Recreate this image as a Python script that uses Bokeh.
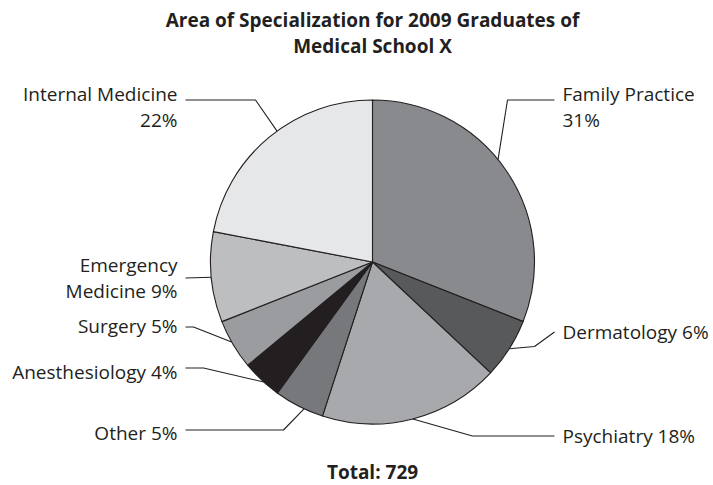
import math
from bokeh.plotting import figure
from bokeh.models import Range1d, ColumnDataSource
from bokeh.core.properties import value
from bokeh.embed import file_html
from bokeh.resources import INLINE

# ---------------- data ----------------
categories = ["Family Practice", "Dermatology", "Psychiatry", "Other",
              "Anesthesiology", "Surgery", "Emergency Medicine", "Internal Medicine"]
percents = [31, 6, 18, 5, 4, 5, 9, 22]
colors = ["#898a8d", "#58595b", "#a7a9ac", "#77787b",
          "#231f20", "#9a9c9f", "#bcbec0", "#e6e7e8"]
title_lines = ["Area of Specialization for 2009 Graduates of", "Medical School X"]
total_graduates = 729

# ---------------- layout (page pixels) ----------------
W, H = 713, 485
CX, CY, R = 372, 261.5, 162
FONT = "Open Sans"
INK = "#231f20"
TSHIFT = 7.5  # text baseline correction

# label layout: side, angle offset (deg), elbow points after the edge point, text x, baselines, line split
layouts = {
    "Family Practice":    dict(side="R", off=-5.0, pts=[(507, 99.5), (554, 99.5)], tx=562, base=[101, 126.5], split=True),
    "Dermatology":        dict(side="R", off=0.0, pts=[(534, 346), (554, 331.5)], tx=562, base=[338.5], split=False),
    "Psychiatry":         dict(side="R", off=0.0, pts=[(472, 435.5), (554, 435.5)], tx=562, base=[443], split=False),
    "Other":              dict(side="L", off=-2.0, pts=[(283, 429.5), (185, 429.5)], tx=177, base=[440], split=False),
    "Anesthesiology":     dict(side="L", off=-1.0, pts=[(203, 367.5), (185, 367.5)], tx=177, base=[379], split=False),
    "Surgery":            dict(side="L", off=1.0, pts=[(193, 326.5), (185, 326.5)], tx=177, base=[333], split=False),
    "Emergency Medicine": dict(side="L", off=0.0, pts=[(185, 277.5)], tx=177, base=[272, 297.5], split="word"),
    "Internal Medicine":  dict(side="L", off=3.5, pts=[(255, 99.5), (185, 99.5)], tx=177, base=[101, 126.5], split=True),
}

def Y(y):
    return H - y

def TY(y):
    return H - (y - TSHIFT)

p = figure(width=W, height=H, output_backend="svg", toolbar_location=None,
           x_range=Range1d(0, W), y_range=Range1d(0, H), min_border=0)
p.axis.visible = False
p.grid.visible = False
p.outline_line_color = None
p.background_fill_color = "white"
p.border_fill_color = "white"

# wedges
starts, ends = [], []
cum = 0.0
for v in percents:
    starts.append(cum)
    cum += v / sum(percents) * 360.0
    ends.append(cum)

src = ColumnDataSource(dict(
    start=[math.radians(90 - s) for s in starts],
    end=[math.radians(90 - e) for e in ends],
    color=colors,
))
p.wedge(x=CX, y=Y(CY), radius=R, start_angle="start", end_angle="end",
        direction="clock", fill_color="color", line_color=INK, line_width=1.1, source=src)

# leaders and labels
xs, ys = [], []
tx_l, ty_l, tt_l, ta_l = [], [], [], []
for cat, pct, s, e in zip(categories, percents, starts, ends):
    lay = layouts[cat]
    th = math.radians((s + e) / 2 + lay["off"])
    ex = CX + R * math.sin(th)
    ey = CY - R * math.cos(th)
    pts = [(ex, ey)] + lay["pts"]
    xs.append([q[0] for q in pts])
    ys.append([Y(q[1]) for q in pts])
    if lay["split"] is True:
        lines = [cat, f"{pct}%"]
    elif lay["split"] == "word":
        w = cat.split(" ")
        lines = [w[0], " ".join(w[1:]) + f" {pct}%"]
    else:
        lines = [f"{cat} {pct}%"]
    for ln, b in zip(lines, lay["base"]):
        tx_l.append(lay["tx"])
        ty_l.append(TY(b))
        tt_l.append(ln)
        ta_l.append("left" if lay["side"] == "R" else "right")

p.multi_line(xs=xs, ys=ys, line_color=INK, line_width=1.1)
p.text(x=tx_l, y=ty_l, text=tt_l, text_align=ta_l, text_baseline="alphabetic",
       text_font=value(FONT), text_font_size="19px", text_color=INK)

# title and total
p.text(x=[CX, CX], y=[TY(27.3), TY(52.7)], text=title_lines, text_align="center",
       text_baseline="alphabetic", text_font=value(FONT), text_font_style="bold",
       text_font_size="19px", text_color=INK)
p.text(x=[CX], y=[TY(479)], text=[f"Total: {total_graduates}"], text_align="center",
       text_baseline="alphabetic", text_font=value(FONT), text_font_style="bold",
       text_font_size="19px", text_color=INK)

open("out.html", "w").write(file_html(p, INLINE))
